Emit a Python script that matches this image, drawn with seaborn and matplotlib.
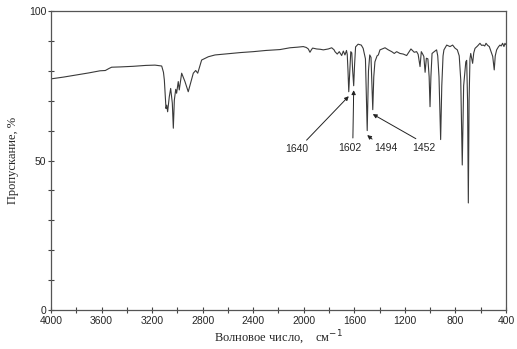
import numpy as np
import pandas as pd
import matplotlib
matplotlib.use("Agg")
import matplotlib.pyplot as plt
import seaborn as sns

# =========================
# SPECTRUM DATA
# =========================

wavenumber = [
    4000, 3900, 3800, 3700, 3612, 3570, 3540, 3520, 3450, 3350,
    3250, 3177, 3140, 3124, 3110, 3103, 3090, 3084, 3077, 3064,
    3053, 3040, 3032, 3024, 3013, 3006, 2993, 2985, 2966, 2940,
    2914, 2892, 2874, 2855, 2839, 2808, 2755, 2702, 2600, 2500,
    2400, 2300, 2188, 2109, 2050, 2004, 1980, 1964, 1951, 1940,
    1930, 1898, 1870, 1845, 1820, 1806, 1779, 1760, 1753, 1735,
    1719, 1700, 1687, 1674, 1662, 1656, 1650, 1644, 1636, 1628,
    1620, 1613, 1605, 1598, 1590, 1570, 1545, 1530, 1512, 1498,
    1488, 1478, 1468, 1460, 1454, 1446, 1437, 1420, 1410, 1397,
    1357, 1331, 1304, 1284, 1265, 1239, 1213, 1186, 1165, 1152,
    1126, 1107, 1095, 1080, 1070, 1058, 1050, 1040, 1030, 1018,
    1008, 1001, 994, 985, 965, 949, 940, 930, 917, 908,
    898, 891, 869, 843, 822, 804, 785, 770, 758, 746,
    735, 718, 711, 704, 698, 692, 685, 679, 664, 655,
    645, 625, 606, 593, 580, 568, 558, 545, 532, 515,
    505, 493, 485, 474, 460, 448, 438, 427, 416, 408,
    400,
]

transmittance = [
    77.3, 77.9, 78.6, 79.3, 80.0, 80.1, 80.8, 81.2, 81.3, 81.5,
    81.8, 81.9, 81.7, 81.6, 79.5, 76.9, 67.4, 68.5, 66.3, 71.3,
    74.1, 69.2, 60.8, 70.2, 73.8, 72.5, 76.4, 73.6, 79.2, 76.4,
    73.0, 76.4, 79.2, 80.1, 79.2, 83.6, 84.7, 85.3, 85.7, 86.1,
    86.4, 86.8, 87.1, 87.7, 87.9, 88.1, 87.8, 87.3, 86.2, 87.0,
    87.6, 87.3, 87.2, 87.0, 87.2, 87.3, 87.7, 87.0, 86.4, 85.6,
    86.4, 85.1, 86.6, 85.3, 86.8, 85.5, 80.0, 73.0, 80.0, 86.4,
    86.0, 80.0, 75.0, 82.0, 88.0, 88.9, 88.6, 87.5, 84.0, 60.0,
    80.0, 85.3, 84.5, 75.0, 67.0, 78.0, 83.0, 85.0, 85.3, 87.0,
    87.7, 87.0, 86.4, 85.8, 86.4, 85.8, 85.6, 85.1, 86.5, 87.3,
    86.2, 86.4, 85.5, 81.4, 86.4, 85.5, 84.8, 79.5, 84.2, 84.0,
    78.0, 68.0, 78.0, 85.8, 86.5, 87.0, 85.0, 78.0, 57.0, 75.0,
    85.0, 87.0, 88.6, 88.1, 88.6, 87.6, 87.0, 85.0, 77.0, 48.5,
    75.0, 83.0, 83.5, 70.0, 35.8, 70.0, 84.0, 85.8, 82.5, 86.0,
    87.5, 88.3, 89.2, 88.5, 88.6, 88.3, 89.2, 88.5, 88.1, 86.0,
    84.8, 80.3, 85.0, 87.0, 88.0, 88.6, 88.3, 89.2, 88.1, 89.2,
    88.7,
]

# peak labels and where their text sits
peak_labels = [1640, 1602, 1494, 1452]
label_x = [2056, 1634, 1349, 1049]
label_y = [53.7, 54.3, 54.1, 54.3]
arrow_start = [(0.75, 1.0), (0.62, 1.0), (0.12, 1.0), (0.45, 1.0)]

df = pd.DataFrame({"wn": wavenumber, "T": transmittance})

# =========================
# STYLE
# =========================

sns.set_style("ticks")
plt.rcParams["font.family"] = ["Liberation Sans", "DejaVu Sans"]

fig = plt.figure(figsize=(5.17, 3.49), dpi=100)
ax = fig.add_axes([0.0986, 0.1117, 0.8801, 0.8568])

# =========================
# SPECTRUM
# =========================

sns.lineplot(
    data=df,
    x="wn",
    y="T",
    estimator=None,
    sort=False,
    color="#3a3a3a",
    linewidth=0.8,
    ax=ax
)

ax.set_xlim(4000, 400)
ax.set_ylim(0, 100)

ax.set_xticks(np.arange(4000, 399, -400))
ax.set_xticks(np.arange(4000, 399, -200), minor=True)
ax.set_yticks([0, 50, 100])
ax.set_yticks(np.arange(0, 101, 10), minor=True)

ax.tick_params(which="both", direction="inout", length=5, width=0.8,
               color="#444444", labelsize=7.5, pad=1)
ax.tick_params(axis="x", which="major", pad=2)

for s in ax.spines.values():
    s.set_color("#555555")
    s.set_linewidth(0.9)

ax.set_xlabel("Волновое число,    см$^{-1}$", family="Liberation Serif",
              fontsize=9, labelpad=2)
ax.set_ylabel("Пропускание, %", family="Liberation Serif",
              fontsize=9, labelpad=7)

# =========================
# PEAK ANNOTATIONS
# =========================

for lab, tx, ty, rp in zip(peak_labels, label_x, label_y, arrow_start):
    # tip sits just under the deepest point near the labelled band
    near = df[(df["wn"] > lab - 10) & (df["wn"] < lab + 10)]
    tip_x = near.loc[near["T"].idxmin(), "wn"]
    tip_y = near["T"].min() - 1.5
    ax.annotate(
        str(lab),
        xy=(tip_x, tip_y),
        xytext=(tx, ty),
        ha="center",
        va="center",
        fontsize=7.5,
        arrowprops=dict(arrowstyle="-|>", color="#222222", lw=0.7,
                        mutation_scale=6, shrinkA=1, shrinkB=0,
                        relpos=rp)
    )

plt.savefig("out.png", dpi=100)
